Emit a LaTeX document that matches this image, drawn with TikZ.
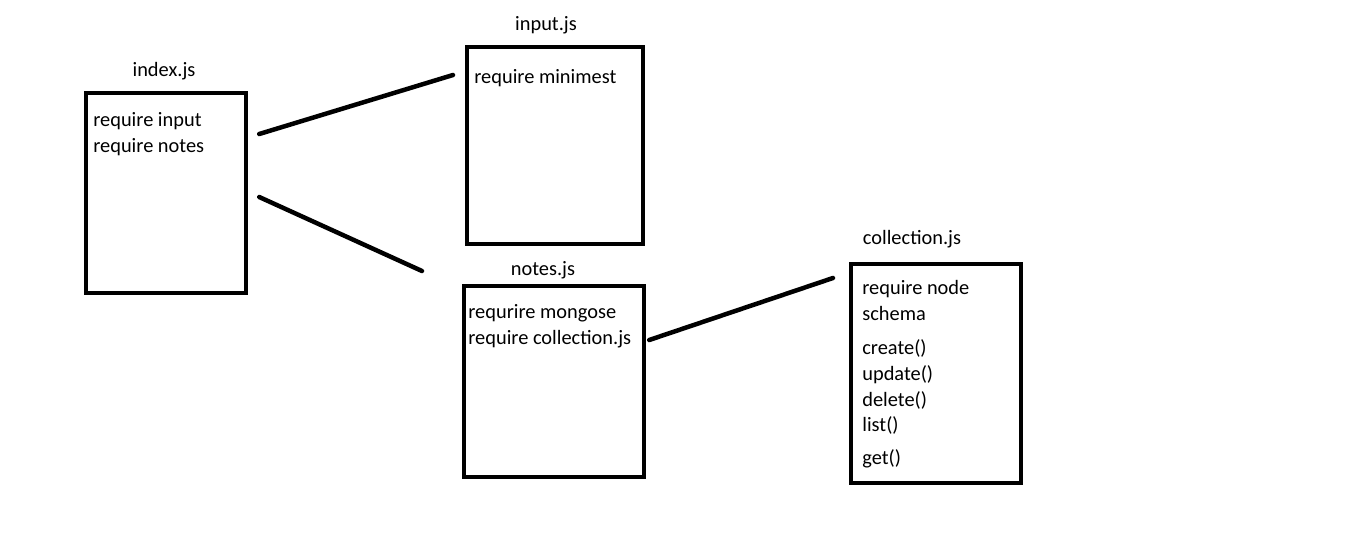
\documentclass[tikz,border=0pt]{standalone}
\usepackage{fontspec}
\setmainfont{Carlito}
\begin{document}
\begin{tikzpicture}[x=0.02cm,y=-0.02cm,
	every node/.style={font=\fontsize{11.6}{13}\selectfont,inner sep=0pt},
	filebox/.style={draw,rectangle,line width=0.085cm,anchor=north west},
	code/.style={anchor=base west},
	link/.style={line width=0.09cm,line cap=round}]
	\useasboundingbox (0,0) rectangle (1360,556) ;
	% boxes
	\node[filebox,minimum width=3.2cm,minimum height=4cm] (index) at (84,91) {} ;
	\node[filebox,minimum width=3.52cm,minimum height=3.94cm] (input) at (465,45) {} ;
	\node[filebox,minimum width=3.6cm,minimum height=3.82cm] (notes) at (462,284) {} ;
	\node[filebox,minimum width=3.4cm,minimum height=4.38cm] (collection) at (849,262) {} ;
	% titles
	\node (indextitle) at (164,71) {index.js} ;
	\node (inputtitle) at (546,25) {input.js} ;
	\node (notestitle) at (543,270) {notes.js} ;
	\node (collectiontitle) at (912,239) {collection.js} ;
	% contents
	\node[code] (indexa) at (93,126) {require input} ;
	\node[code] (indexb) at (93,152) {require notes} ;
	\node[code] (inputa) at (474,83) {require minimest} ;
	\node[code] (notesa) at (468,318) {requrire mongose} ;
	\node[code] (notesb) at (468,344) {require collection.js} ;
	\foreach \y/\t [count=\i] in {294/require node,320/schema,354/create(),380/update(),406/delete(),431/list(),464/get()}
		\node[code] (coll\i) at (862,\y) {\t} ;
	% links
	\draw[link] ([shift={(11,43)}]index.north east) -- ([shift={(-12,30)}]input.north west) ;
	\draw[link] ([shift={(11,106)}]index.north east) -- ([shift={(-40,-13)}]notes.north west) ;
	\draw[link] ([shift={(3,56)}]notes.north east) -- ([shift={(-16,16)}]collection.north west) ;
\end{tikzpicture}
\end{document}
